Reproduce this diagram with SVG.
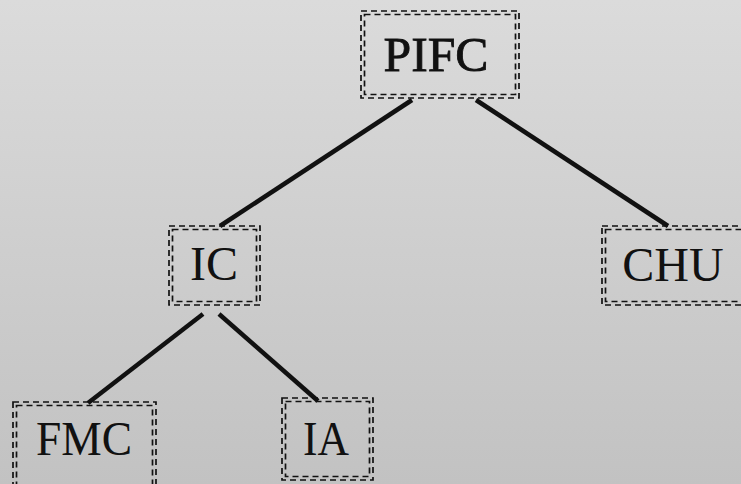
<svg xmlns="http://www.w3.org/2000/svg" width="741" height="484" viewBox="0 0 741 484">
<defs>
<linearGradient id="bg" x1="0" y1="0" x2="0" y2="1">
<stop offset="0" stop-color="#dbdbdb"/>
<stop offset="1" stop-color="#c2c2c2"/>
</linearGradient>
</defs>
<style>
.b{fill:none;stroke:#111;stroke-width:1.7;stroke-dasharray:6 4}
.t{font-family:"Liberation Serif",serif;font-size:48px;fill:#111;text-anchor:middle}
.e{stroke:#111;stroke-width:4.5;stroke-linecap:butt}
</style>
<rect width="741" height="484" fill="url(#bg)"/>
<g id="connectors">
<line class="e" x1="412" y1="100" x2="220" y2="226"/>
<line class="e" x1="476" y1="100" x2="668" y2="226"/>
<line class="e" x1="203" y1="314" x2="88" y2="403"/>
<line class="e" x1="219" y1="314" x2="318" y2="401"/>
</g>
<g id="PIFC">
<rect class="b" x="361" y="11" width="158" height="87"/>
<rect class="b" x="364.5" y="14.5" width="151" height="80"/>
<text class="t" x="436" y="71" font-size="55" stroke="#111" stroke-width="0.8" textLength="105" lengthAdjust="spacingAndGlyphs">PIFC</text>
</g>
<g id="IC">
<rect class="b" x="169" y="226" width="91" height="79"/>
<rect class="b" x="172.5" y="229.5" width="84" height="72"/>
<text class="t" x="214" y="280">IC</text>
</g>
<g id="CHU">
<rect class="b" x="602" y="226" width="150" height="79"/>
<rect class="b" x="605.5" y="229.5" width="150" height="72"/>
<text class="t" x="673" y="281">CHU</text>
</g>
<g id="FMC">
<rect class="b" x="13" y="402" width="143" height="90"/>
<rect class="b" x="16.5" y="405.5" width="136" height="90"/>
<text class="t" x="84" y="455" textLength="96" lengthAdjust="spacingAndGlyphs">FMC</text>
</g>
<g id="IA">
<rect class="b" x="282" y="398" width="91" height="82"/>
<rect class="b" x="285.5" y="401.5" width="84" height="75"/>
<text class="t" x="326" y="455" textLength="46" lengthAdjust="spacingAndGlyphs">IA</text>
</g>
</svg>
